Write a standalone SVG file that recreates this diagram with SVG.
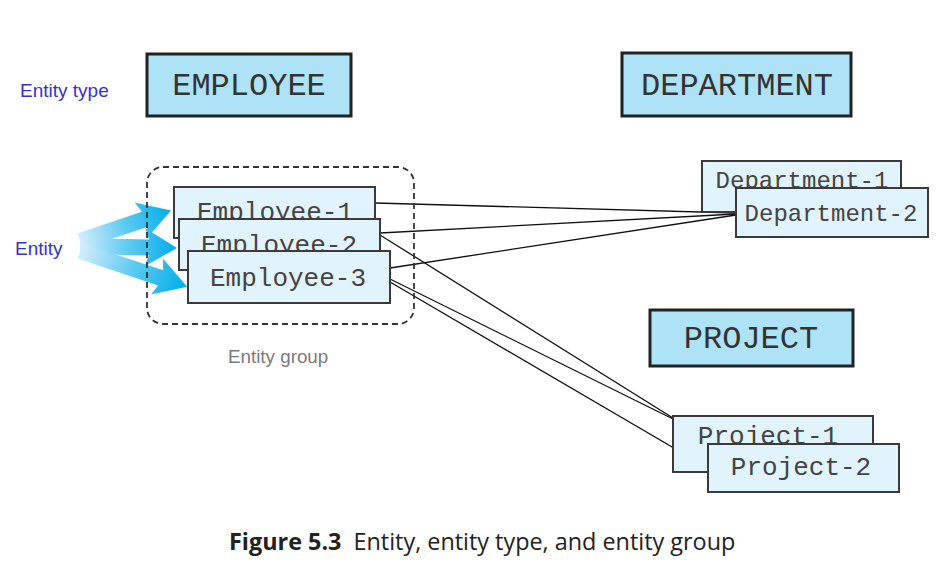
<svg xmlns="http://www.w3.org/2000/svg" width="948" height="566" viewBox="0 0 948 566">
<defs>
<linearGradient id="ag" x1="0" y1="0" x2="1" y2="0">
<stop offset="0" stop-color="#d4edfa"/>
<stop offset="0.5" stop-color="#5ccaf2"/>
<stop offset="1" stop-color="#00ade9"/>
</linearGradient>
<style>
.type rect{fill:#aee2f7;stroke:#222;stroke-width:3}
.type text{font-family:"Liberation Mono","DejaVu Sans Mono",monospace;font-size:32px;fill:#333;text-anchor:middle}
.ent rect{fill:#e1f3fc;stroke:#3a3a3a;stroke-width:2}
.ent text{font-family:"Liberation Mono","DejaVu Sans Mono",monospace;font-size:26px;fill:#444;text-anchor:middle}
.lbl{font-family:"Liberation Sans",Arial,sans-serif;font-size:19px;fill:#3434c8}
.conn line{stroke:#111;stroke-width:1.3}
</style>
</defs>
<rect width="948" height="566" fill="#fff"/>

<text class="lbl" x="20" y="97">Entity type</text>
<text class="lbl" x="15" y="255">Entity</text>
<text x="228" y="363" font-family="Liberation Sans,Arial,sans-serif" font-size="18.8px" fill="#7a7a7a">Entity group</text>

<g id="employee" class="type"><rect x="147" y="54" width="204" height="62"/><text x="249" y="95">EMPLOYEE</text></g>
<g id="department" class="type"><rect x="622" y="53" width="229" height="63"/><text x="737" y="95">DEPARTMENT</text></g>
<g id="project" class="type"><rect x="650" y="310" width="203" height="56"/><text x="751" y="348">PROJECT</text></g>

<g id="connectors" class="conn">
<line x1="375" y1="203" x2="736" y2="213"/>
<line x1="380" y1="233" x2="736" y2="214"/>
<line x1="390" y1="268" x2="736" y2="215"/>
<line x1="380" y1="235" x2="673" y2="418"/>
<line x1="390" y1="279" x2="673" y2="419"/>
<line x1="390" y1="282" x2="708" y2="468"/>
</g>

<g id="arrows" fill="url(#ag)">
<polygon transform="translate(80,241) rotate(-18.6)" points="0,-8 68,-8 64,-19 96,0 64,19 68,8 0,8"/>
<polygon transform="translate(80,246) rotate(1.2)" points="0,-8 69,-8 65,-19 97,0 65,19 69,8 0,8"/>
<polygon transform="translate(80,251) rotate(18.4)" points="0,-8 85,-8 81,-19 113,0 81,19 85,8 0,8"/>
</g>

<rect id="entity-group" x="147" y="167" width="267" height="157" rx="16" fill="none" stroke="#333" stroke-width="1.8" stroke-dasharray="6 4"/>

<g id="employee-1" class="ent"><rect x="174" y="187" width="201" height="51"/><text x="275" y="220">Employee-1</text></g>
<g id="employee-2" class="ent"><rect x="179" y="219" width="201" height="51"/><text x="279" y="253">Employee-2</text></g>
<g id="employee-3" class="ent"><rect x="188" y="251" width="202" height="52"/><text x="288" y="286">Employee-3</text></g>

<g id="department-1" class="ent"><rect x="702" y="161" width="199" height="51"/><text x="802" y="188" style="font-size:24px">Department-1</text></g>
<g id="department-2" class="ent"><rect x="736" y="188" width="192" height="49"/><text x="831" y="221" style="font-size:24px">Department-2</text></g>

<g id="project-1" class="ent"><rect x="673" y="416" width="200" height="56"/><text x="768" y="444">Project-1</text></g>
<g id="project-2" class="ent"><rect x="708" y="444" width="191" height="48"/><text x="801" y="475">Project-2</text></g>

<text x="229" y="550" font-family="Open Sans,Noto Sans,sans-serif" font-size="23.4px" fill="#222"><tspan font-weight="bold">Figure 5.3</tspan><tspan dx="12">Entity, entity type, and entity group</tspan></text>
</svg>
